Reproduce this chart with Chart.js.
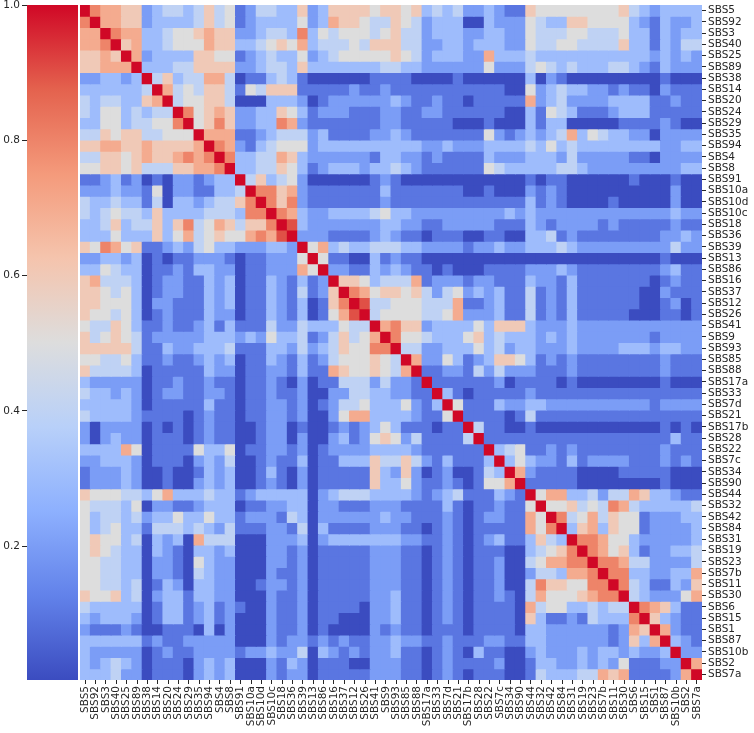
<!DOCTYPE html>
<html>
<head>
<meta charset="utf-8">
<title>Signature correlation heatmap</title>
<script src="https://cdn.jsdelivr.net/npm/chart.js@4.4.1/dist/chart.umd.min.js"></script>
<style>
  body { margin: 0; background: #fff; }
  #wrap { position: relative; width: 754px; height: 733px; }
  canvas { position: absolute; left: 0; top: 0; }
</style>
</head>
<body>
<div id="wrap">
  <canvas id="heat" width="754" height="733"></canvas>
  <canvas id="cbar" width="80" height="733"></canvas>
</div>
<script>
// signatures in clustered order (same order on both axes)
const sigLabels = [
    'SBS5', 'SBS92', 'SBS3', 'SBS40', 'SBS25', 'SBS89', 'SBS38', 'SBS14', 'SBS20', 'SBS24',
    'SBS29', 'SBS35', 'SBS94', 'SBS4', 'SBS8', 'SBS91', 'SBS10a', 'SBS10d', 'SBS10c', 'SBS18',
    'SBS36', 'SBS39', 'SBS13', 'SBS86', 'SBS16', 'SBS37', 'SBS12', 'SBS26', 'SBS41', 'SBS9',
    'SBS93', 'SBS85', 'SBS88', 'SBS17a', 'SBS33', 'SBS7d', 'SBS21', 'SBS17b', 'SBS28', 'SBS22',
    'SBS7c', 'SBS34', 'SBS90', 'SBS44', 'SBS32', 'SBS42', 'SBS84', 'SBS31', 'SBS19', 'SBS23',
    'SBS7b', 'SBS11', 'SBS30', 'SBS6', 'SBS15', 'SBS1', 'SBS87', 'SBS10b', 'SBS2', 'SBS7a'
];

// correlation, in tenths (x = 1.0), upper triangle;
// '.' means take the mirrored cell
const corrRows = [
    'x877662344 3464512443 3623666656 6563434223 2116555555 5564323333',
    '.x77662333 3464512333 3523766544 6542333003 2225433665 5553213223',
    '..x8773345 5676622344 3835455545 6442333223 3225444554 4453313233',
    '...x673345 5576633456 5734445466 6442233233 3225445544 4463313244',
    '....x72333 3665512343 3523455555 6542333227 3334333333 3333323232',
    '.....x3334 4666622344 3633333334 4332222225 2224543433 3443213222',
    '......x463 4477401134 3100000011 1100001000 0003021000 0000001000',
    '.......x74 5466415466 6111112112 1111111111 1005234332 2121102111',
    '........x4 5566400033 3201222222 3211211011 1117234222 2333311211',
    '.........x 8567622336 5312221112 2112211111 1003154311 1233311111',
    '.......... x568622338 7211111112 2111110001 0003133000 0011112100',
    '.......... .x77711234 4423111122 3211111115 2123234735 4332202222',
    '.......... ..x8721345 5523333333 3332232223 3334353433 3333332233',
    '.......... ...x833447 6322222213 3221211113 2223332422 2221102222',
    '.......... ....x33446 5312333233 4321111115 4333334432 2222222233',
    '.......... .....x4634 5200000012 1000000000 0001011000 0001000100',
    '.......... ......x886 7211111113 1111111001 0002121000 0000000200',
    '.......... .......x86 8211111112 1111111111 1113121000 0100000200',
    '.......... ........x8 7322333345 3322222222 2323222222 2222222322',
    '.......... .........x 9322222223 3221122222 1113212222 1211111211',
    '.......... .......... x222111123 2110111001 1003341211 1111112232',
    '.......... .......... .x57343344 4332222122 3223334322 2222222422',
    '.......... .......... ..x5110031 2110000000 0000000000 0000001000',
    '.......... .......... ...x221132 3211010001 1112223211 1111112311',
    '.......... .......... ....x66534 4471222122 1113221311 1111101211',
    '.......... .......... .....x8756 6564245232 3114121311 1111002111',
    '.......... .......... ......x944 5554447112 3114121311 1111001201',
    '.......... .......... .......x45 5554457222 3114121311 1110001101',
    '.......... .......... ........x7 8662333353 6663222322 2222222222',
    '.......... .......... .........x 8554333563 4333232322 2222212222',
    '.......... .......... .......... x442233353 4233222322 2233323322',
    '.......... .......... .......... .x72253123 6653121211 1111112111',
    '.......... .......... .......... ..x1122142 4222111211 1111112111',
    '.......... .......... .......... ...x111111 2011110100 0000001000',
    '.......... .......... .......... ....x31011 1112111111 1111111111',
    '.......... .......... .......... .....x5111 3223322222 2222212222',
    '.......... .......... .......... ......x111 1014111111 1111111111',
    '.......... .......... .......... .......x41 1001000000 0000001010',
    '.......... .......... .......... ........x1 1111111111 1111111311',
    '.......... .......... .......... .........x 3451121211 1111112111',
    '.......... .......... .......... .......... x353221312 2221112121',
    '.......... .......... .......... .......... .x72111100 0011111000',
    '.......... .......... .......... .......... ..x1111100 0000001000',
    '.......... .......... .......... .......... ...x577334 2447633211',
    '.......... .......... .......... .......... ....x55645 4874333334',
    '.......... .......... .......... .......... .....x8457 4655122233',
    '.......... .......... .......... .......... ......x367 3655122223',
    '.......... .......... .......... .......... .......x88 7553222223',
    '.......... .......... .......... .......... ........x8 7563122334',
    '.......... .......... .......... .......... .........x 8874422224',
    '.......... .......... .......... .......... .......... x883322337',
    '.......... .......... .......... .......... .......... .x84311326',
    '.......... .......... .......... .......... .......... ..x4322257',
    '.......... .......... .......... .......... .......... ...x876311',
    '.......... .......... .......... .......... .......... ....x63211',
    '.......... .......... .......... .......... .......... .....x7211',
    '.......... .......... .......... .......... .......... ......x321',
    '.......... .......... .......... .......... .......... .......x22',
    '.......... .......... .......... .......... .......... ........x7',
    '.......... .......... .......... .......... .......... .........x'
];

const cbMin = 0.002;
const cbMax = 1.0;
const cbTicks = [0.2, 0.4, 0.6, 0.8, 1.0];

// coolwarm anchors (top end a little brighter, like the picture)
const coolwarmStops = [
    [0.0, [59, 76, 192]], [0.125, [98, 130, 234]], [0.25, [141, 176, 254]],
    [0.375, [184, 208, 249]], [0.5, [221, 221, 221]], [0.625, [245, 196, 173]],
    [0.75, [244, 154, 123]], [0.875, [228, 98, 78]], [1.0, [208, 8, 38]]
];

function rgb(c) {
    return `rgb(${c[0]},${c[1]},${c[2]})`;
}

function coolwarm(v) {
    let t = (v - cbMin) / (cbMax - cbMin);
    t = Math.max(0, Math.min(1, t));
    for (let i = 1; i < coolwarmStops.length; i++) {
        const [t1, c1] = coolwarmStops[i];
        if (t <= t1) {
            const [t0, c0] = coolwarmStops[i - 1];
            const f = (t - t0) / (t1 - t0);
            return rgb(c0.map((a, k) => Math.round(a + (c1[k] - a) * f)));
        }
    }
    return rgb(coolwarmStops[coolwarmStops.length - 1][1]);
}

const rows = corrRows.map(s => s.replace(/ /g, ''));

function cellValue(r, c) {
    let ch = rows[r][c];
    if (ch === '.') ch = rows[c][r];
    return ch === 'x' ? 1 : Number(ch) / 10;
}

Chart.defaults.font.family = 'DejaVu Sans';
Chart.defaults.font.size = 10.5;
Chart.defaults.color = '#262626';
Chart.defaults.animation = false;

const datasets = sigLabels.map((name, r) => ({
    label: name,
    data: sigLabels.map((col, c) => ({ x: col, y: [r, r + 1] })),
    backgroundColor: sigLabels.map((col, c) => coolwarm(cellValue(r, c))),
    borderWidth: 0,
    grouped: false,
    barPercentage: 1,
    categoryPercentage: 1,
    inflateAmount: 0.5
}));

new Chart(document.getElementById('heat'), {
    type: 'bar',
    data: { labels: sigLabels, datasets: datasets },
    options: {
        responsive: false,
        layout: { padding: { left: 80, top: 5, right: 0, bottom: 0 } },
        plugins: { legend: { display: false }, tooltip: { enabled: false } },
        scales: {
            x: {
                type: 'category',
                position: 'bottom',
                grid: { offset: false, drawOnChartArea: false, tickLength: 4, color: '#262626' },
                border: { display: false },
                ticks: { autoSkip: false, minRotation: 90, maxRotation: 90, padding: 2 },
                afterFit: s => { s.height = 53; s.paddingLeft = 0; s.paddingRight = 0; }
            },
            y: {
                type: 'linear',
                position: 'right',
                min: 0,
                max: sigLabels.length,
                reverse: true,
                grid: { drawOnChartArea: false, tickLength: 4, color: '#262626' },
                border: { display: false },
                afterBuildTicks: axis => {
                    axis.ticks = sigLabels.map((_, i) => ({ value: i + 0.5 }));
                },
                ticks: { autoSkip: false, padding: 2, callback: (v, i) => sigLabels[i] },
                afterFit: s => { s.width = 52; s.paddingTop = 0; s.paddingBottom = 0; }
            }
        }
    }
});

// colour bar: gradient painted over the y scale's own range
const colorbarFill = {
    id: 'colorbarFill',
    beforeDatasetsDraw(chart) {
        const y = chart.scales.y;
        const area = chart.chartArea;
        const top = y.getPixelForValue(cbMax);
        const bottom = y.getPixelForValue(cbMin);
        const g = chart.ctx.createLinearGradient(0, bottom, 0, top);
        coolwarmStops.forEach(([t, c]) => g.addColorStop(t, rgb(c)));
        chart.ctx.save();
        chart.ctx.fillStyle = g;
        chart.ctx.fillRect(area.left, top, area.right - area.left, bottom - top);
        chart.ctx.restore();
    }
};

new Chart(document.getElementById('cbar'), {
    type: 'bar',
    data: { labels: ['corr'], datasets: [] },
    options: {
        responsive: false,
        layout: { padding: { left: 0, top: 5, right: 2, bottom: 53 } },
        plugins: { legend: { display: false }, tooltip: { enabled: false } },
        scales: {
            x: { display: false },
            y: {
                position: 'left',
                min: cbMin,
                max: cbMax,
                grid: { drawOnChartArea: false, tickLength: 5, color: '#262626' },
                border: { display: false },
                afterBuildTicks: axis => {
                    axis.ticks = cbTicks.map(v => ({ value: v }));
                },
                ticks: { padding: 2, callback: v => v.toFixed(1) },
                afterFit: s => { s.width = 27; s.paddingTop = 0; s.paddingBottom = 0; }
            }
        }
    },
    plugins: [colorbarFill]
});
</script>
</body>
</html>
